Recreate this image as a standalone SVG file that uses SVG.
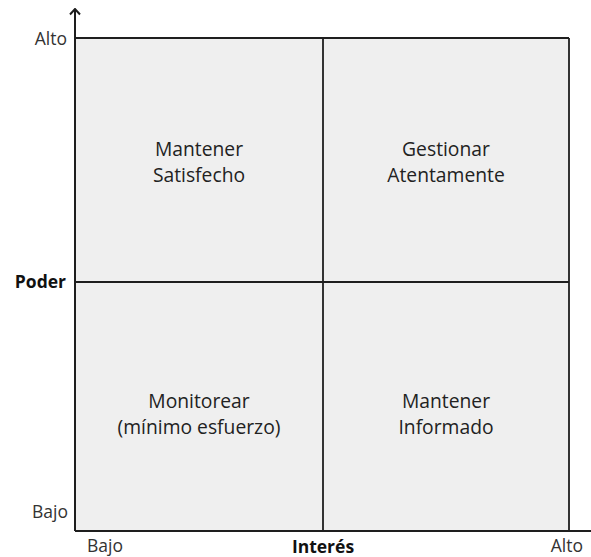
<svg xmlns="http://www.w3.org/2000/svg" width="591" height="557" viewBox="0 0 591 557">
  <style>
    .cell { fill: #efefef; stroke: none; }
    .grid { stroke: #1e1e1e; stroke-width: 1.8; fill: none; }
    .axis { stroke: #1e1e1e; stroke-width: 2; fill: none; }
    .q { font-family: "Open Sans", "Liberation Sans", sans-serif; font-size: 19.3px; fill: #222222; text-anchor: middle; }
    .lbl { font-family: "Open Sans", "Liberation Sans", sans-serif; font-size: 17.5px; fill: #333333; }
    .bold { font-weight: bold; fill: #111111; }
  </style>
  <defs>
    <!-- open chevron head, drawn pointing along +x -->
    <marker id="arrow" viewBox="0 0 12 12" refX="10.5" refY="6" markerWidth="12" markerHeight="12" markerUnits="userSpaceOnUse" orient="auto">
      <path d="M5,1 L10.5,6 L5,11" fill="none" stroke="#1e1e1e" stroke-width="2"/>
    </marker>
  </defs>

  <!-- quadrant background -->
  <rect class="cell" x="76" y="38" width="493" height="493"/>

  <g id="quadrants">
    <g id="q-keep-satisfied">
      <text class="q" x="199" y="156">Mantener</text>
      <text class="q" x="199" y="182">Satisfecho</text>
    </g>
    <g id="q-manage-closely">
      <text class="q" x="446" y="156">Gestionar</text>
      <text class="q" x="446" y="182">Atentamente</text>
    </g>
    <g id="q-monitor">
      <text class="q" x="199" y="408">Monitorear</text>
      <text class="q" x="199" y="434">(mínimo esfuerzo)</text>
    </g>
    <g id="q-keep-informed">
      <text class="q" x="446" y="408">Mantener</text>
      <text class="q" x="446" y="434">Informado</text>
    </g>
  </g>

  <g id="connectors">
    <!-- grid lines -->
    <line class="grid" x1="75" y1="38" x2="569" y2="38"/>
    <line class="grid" x1="569" y1="38" x2="569" y2="531"/>
    <line class="grid" x1="323" y1="38" x2="323" y2="531"/>
    <line class="grid" x1="75" y1="282" x2="569" y2="282"/>
    <!-- axes -->
    <line class="axis" x1="75" y1="531" x2="591" y2="531"/>
    <line class="axis" x1="75" y1="531" x2="75" y2="9" marker-end="url(#arrow)"/>
  </g>

  <g id="axis-labels">
    <text class="lbl" x="67" y="45" text-anchor="end">Alto</text>
    <text class="lbl bold" x="66" y="288" text-anchor="end">Poder</text>
    <text class="lbl" x="68" y="518" text-anchor="end">Bajo</text>
    <text class="lbl" x="87" y="552">Bajo</text>
    <text class="lbl bold" x="323" y="553" text-anchor="middle">Interés</text>
    <text class="lbl" x="583" y="552" text-anchor="end">Alto</text>
  </g>
</svg>
